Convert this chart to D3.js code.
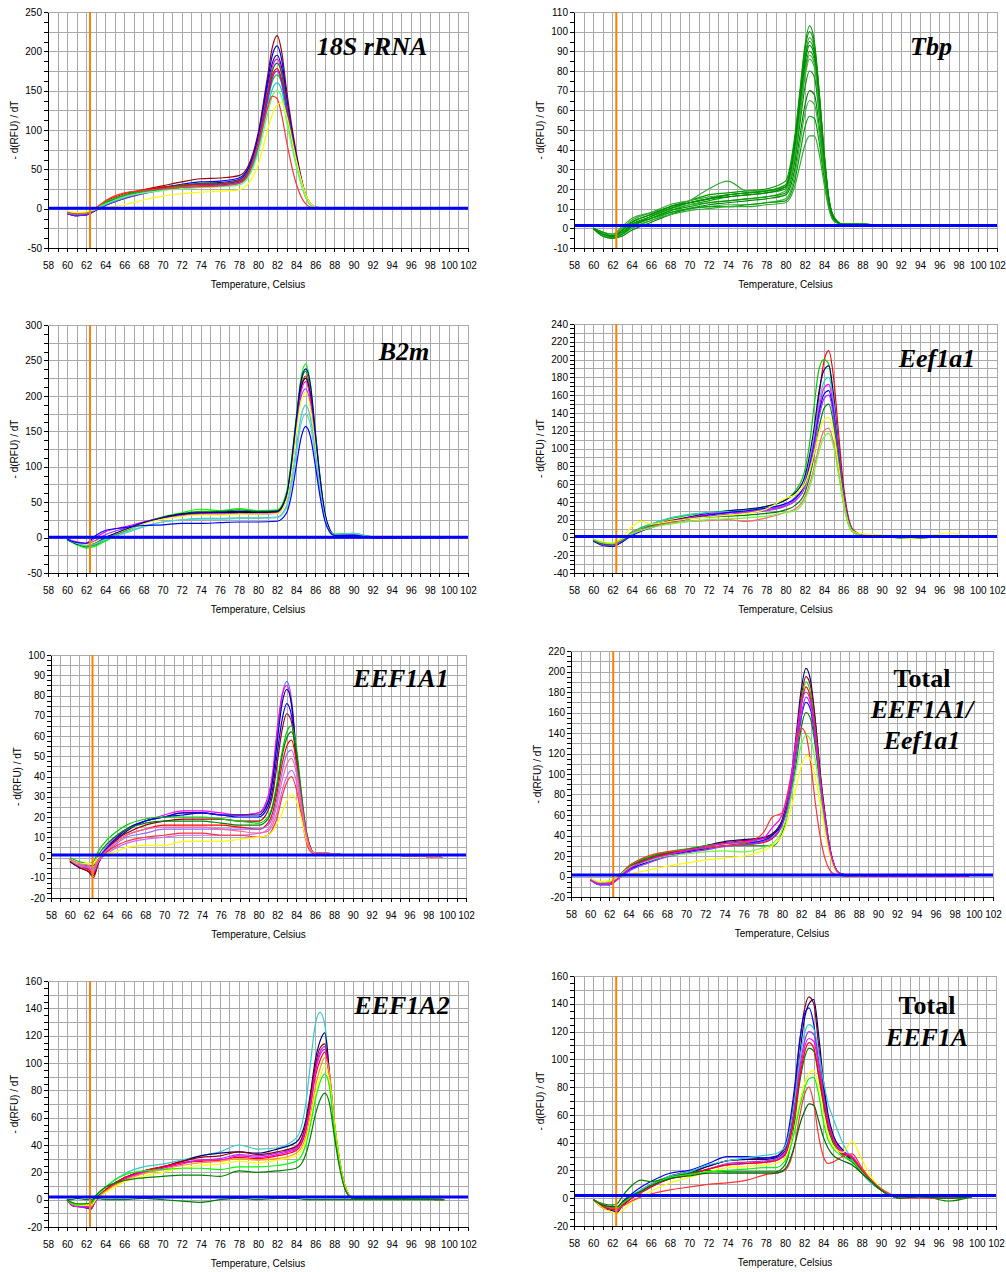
<!DOCTYPE html>
<html><head><meta charset="utf-8">
<script src="https://cdn.jsdelivr.net/npm/d3@7/dist/d3.min.js"></script>
<style>body{margin:0;background:#fff}svg{display:block}</style>
</head><body>
<svg id="chart" width="1006" height="1272"></svg>
<script>
// ---------------- DATA ----------------
const xTickLabels = [58,60,62,64,66,68,70,72,74,76,78,80,82,84,86,88,90,92,94,96,98,100,102];
const xAxisTitle = "Temperature, Celsius";
const yAxisTitle = "- d(RFU) / dT";
const orangeMarker = 62.4;

const panelTitles = [
  [["18S rRNA", true]],
  [["Tbp", true]],
  [["B2m", true]],
  [["Eef1a1", true]],
  [["EEF1A1", true]],
  [["Total", false], ["EEF1A1/", true], ["Eef1a1", true]],
  [["EEF1A2", true]],
  [["Total", false], ["EEF1A", true]]
];

const yTicks18S   = [-50,0,50,100,150,200,250];
const yTicksTbp   = [-10,0,10,20,30,40,50,60,70,80,90,100,110];
const yTicksB2m   = [-50,0,50,100,150,200,250,300];
const yTicksEef   = [-40,-20,0,20,40,60,80,100,120,140,160,180,200,220,240];
const yTicksEEF1  = [-20,-10,0,10,20,30,40,50,60,70,80,90,100];
const yTicksTotA1 = [-20,0,20,40,60,80,100,120,140,160,180,200,220];
const yTicksEEF2  = [-20,0,20,40,60,80,100,120,140,160];
const yTicksTotA  = [-20,0,20,40,60,80,100,120,140,160];

const thresholds = [0.5, 1.5, 0.5, 1, 1.2, 1.5, 2, 2];

// Panel 1: 18S rRNA
const temps18S = [60,61,62,63,64,66,68,70,72,74,76,78,79,80,81,81.5,82,82.5,83,84,85,86,88,92,99.5];
const colors18S = ["#990000","#0000ff","#000099","#ff00ff","#008000","#ff0000","#00cc00","#9900ff","#00cccc","#66ff66","#ff3333","#ffff00"];
const series18S = [
  [-5,-8,-8,-2,6,17,24,29,34,38,39,42,55,95,168,205,220,198,150,72,18,2,0,-1,0],
  [-6,-9,-8,-2,5,15,22,27,31,34,35,39,52,92,162,195,207,188,142,68,17,2,0,0,0],
  [-6,-9,-7,-2,4,13,20,25,29,32,33,37,50,88,155,185,195,178,137,66,17,1,0,0,0],
  [-5,-8,-7,-1,5,14,21,26,29,31,32,36,48,85,150,180,190,173,133,64,16,1,0,-1,0],
  [-4,-7,-6,-1,7,17,23,27,30,32,32,35,47,82,146,175,185,170,130,63,16,1,0,0,0],
  [-5,-7,-6,0,9,19,24,27,29,31,31,34,45,80,142,170,178,163,125,60,15,1,0,-1,0],
  [-4,-6,-5,1,8,17,22,25,28,29,30,33,44,78,136,162,170,158,122,58,15,1,0,0,0],
  [-6,-9,-8,-2,4,13,19,24,27,29,30,33,44,78,138,166,175,160,124,60,15,1,0,0,0],
  [-5,-7,-6,-1,5,14,20,24,27,28,29,32,42,74,128,152,160,150,117,57,15,1,0,0,0],
  [-4,-6,-5,0,6,15,20,23,25,27,28,30,40,70,120,143,150,141,110,54,14,1,0,0,0],
  [-4,-6,-5,1,10,20,23,25,27,28,29,32,44,80,128,143,140,118,85,32,6,0,0,0,0],
  [-3,-5,-4,-1,1,5,11,16,19,21,22,24,32,55,100,120,132,135,118,62,18,2,0,0,0]
];

// Panel 2: Tbp
const tempsTbp = [60,61,62,63,64,66,68,70,72,74,76,78,80,81,81.5,82,82.5,83,83.5,84,84.5,85,86,88,92,99.5];
const colorsTbp = ["#009900","#33aa33","#008800","#00a000","#40b040","#009900","#33aa33","#008800","#40b040","#00a000","#33aa33","#009900","#008800"];
const seriesTbp = [
  [0,-3,-4,-1,3,7,11,14,17,18,19,20,24,48,70,92,103,95,70,40,16,6,2,2,1,1],
  [0,-2,-3,0,4,8,12,14,16,17,18,19,22,45,66,87,97,92,68,38,15,6,2,2,1,1],
  [0,-3,-4,-2,2,6,10,13,15,17,18,19,21,42,62,83,93,88,66,37,15,6,2,2,1,1],
  [0,-4,-5,-3,1,5,9,12,14,16,17,18,20,40,60,80,90,86,64,36,14,5,2,2,1,1],
  [0,-2,-3,0,3,7,10,12,13,14,15,16,19,38,57,76,86,82,62,35,14,5,2,2,1,1],
  [0,-3,-4,-2,2,5,9,11,13,14,15,16,18,35,53,71,80,77,58,33,13,5,2,2,1,1],
  [0,-2,-3,1,5,8,11,14,20,24,19,19,21,40,59,78,88,84,62,35,14,5,2,2,1,1],
  [0,-3,-5,-4,-1,3,7,10,12,13,14,15,17,31,47,62,70,68,52,30,12,5,2,2,1,1],
  [0,-3,-4,-3,0,4,8,10,11,12,12,13,15,28,43,58,65,63,49,29,12,4,2,2,1,1],
  [0,-2,-4,-2,1,5,8,10,11,11,12,13,14,25,38,51,57,56,44,26,11,4,2,2,1,1],
  [0,-3,-5,-3,0,4,7,9,10,11,11,12,13,22,32,42,47,47,38,23,10,4,2,2,1,1],
  [0,-4,-5,-3,1,6,10,13,15,17,18,19,22,46,68,90,100,93,69,39,15,6,2,2,1,1],
  [0,-3,-4,-1,3,7,11,13,15,16,17,18,21,43,64,85,95,90,67,37,15,5,2,2,1,1]
];

// Panel 3: B2m
const tempsB2m = [60,61,62,63,64,66,68,70,72,74,76,78,80,82,83,83.5,84,84.5,85,85.5,86,86.5,87,87.5,88,90,92,99.5];
const colorsB2m = ["#00ff00","#009900","#ff0000","#000000","#ff00ff","#9933ff","#ffff00","#000099","#33cccc","#66cccc","#0000ff"];
const seriesB2m = [
  [-3,-10,-15,-12,-5,8,20,29,35,40,38,41,38,39,65,110,170,225,245,215,150,85,35,12,5,6,1,0],
  [-2,-9,-13,-10,-3,9,21,29,34,37,37,39,37,38,62,105,165,218,235,205,145,82,33,11,4,5,1,0],
  [-2,-8,-10,-7,0,10,21,28,32,34,35,36,35,36,58,100,160,212,228,200,140,78,32,10,4,3,0,0],
  [-2,-9,-11,-8,-1,10,21,28,33,35,35,36,35,36,58,99,158,210,225,198,138,77,32,10,4,3,0,0],
  [-2,-6,-8,0,8,15,22,28,31,33,33,34,34,35,56,96,155,205,220,194,135,75,31,10,4,3,0,0],
  [-2,-7,-9,-4,4,13,21,27,31,33,33,34,33,34,55,93,150,198,210,186,130,72,30,10,4,3,0,0],
  [-2,-8,-10,-6,0,10,20,26,30,32,32,33,33,34,54,91,146,192,205,182,128,70,29,10,4,3,0,0],
  [-3,-8,-12,-8,0,11,21,28,33,35,36,37,36,37,60,104,165,220,238,215,150,85,35,12,4,3,0,0],
  [-2,-8,-12,-9,-3,6,15,22,25,27,27,28,28,29,45,78,125,170,187,168,120,68,28,9,4,6,1,0],
  [-2,-8,-11,-8,-2,7,16,22,25,26,26,27,27,28,42,72,116,160,175,158,113,64,27,9,4,6,1,0],
  [-2,-7,-8,3,10,14,17,18,20,20,21,22,22,23,35,60,100,140,157,142,102,58,24,8,3,3,0,0]
];

// Panel 4: Eef1a1
const tempsEef = [60,61,62,63,64,65,66,68,70,72,74,76,78,80,81,82,82.5,83,83.5,84,84.5,85,85.5,86,86.5,87,88,90,93,97,99.5];
const colorsEef = ["#ff0000","#00cc00","#000080","#33cccc","#ff00ff","#0000ff","#9933ff","#008000","#ffff00","#ff6666","#66ff33"];
const seriesEef = [
  [-3,-8,-9,-4,4,9,13,19,23,26,28,29,32,37,45,62,85,115,160,198,210,180,120,62,25,9,3,1,-1,1,0],
  [-3,-7,-8,-3,6,11,15,21,25,28,30,31,35,42,52,75,105,150,190,200,195,150,90,45,18,7,2,1,-1,1,0],
  [-4,-9,-10,-5,3,8,12,18,23,27,30,32,35,42,50,68,92,125,165,188,193,160,105,55,22,8,2,1,0,1,0],
  [-3,-7,-8,-3,5,10,15,22,26,28,29,30,32,37,45,62,85,115,152,175,180,152,100,52,21,8,2,1,0,1,0],
  [-3,-8,-9,-4,3,8,12,18,22,26,28,29,31,36,43,60,82,110,145,168,172,145,97,50,20,7,2,1,0,1,0],
  [-4,-8,-10,-5,2,7,11,17,21,25,28,30,33,38,44,60,80,106,140,161,165,140,94,49,20,7,2,1,0,1,0],
  [-3,-8,-9,-4,3,8,12,17,21,24,26,28,30,35,41,56,76,102,135,156,160,136,91,48,19,7,2,1,0,1,0],
  [-3,-7,-8,-3,4,9,13,18,21,23,24,25,27,31,36,50,68,93,124,145,150,128,86,45,18,7,2,1,0,1,0],
  [-2,-5,-6,0,12,18,15,18,21,23,25,27,32,44,48,60,75,95,118,132,135,118,82,44,18,7,4,3,-1,5,-1],
  [-2,-6,-7,-2,5,9,12,16,18,19,20,18,22,28,32,45,60,80,103,120,123,106,74,40,16,6,2,1,0,1,0],
  [-2,-6,-7,-2,4,8,11,15,18,20,21,22,24,28,30,42,56,75,97,113,117,102,72,39,16,6,2,1,0,1,0]
];

// Panel 5: EEF1A1
const tempsEEF1 = [60,61,62,62.5,63,64,65,66,68,70,72,74,76,78,80,81,81.5,82,82.5,83,83.5,84,84.5,85,85.5,86,87,90,95,99.5];
const colorsEEF1 = ["#6666ff","#ff00ff","#000080","#0000ff","#990000","#00cc00","#008000","#ff0000","#9966ff","#cc66ff","#ff3333","#ffff00","#ff6699"];
const seriesEEF1 = [
  [-1,-4,-5,-7,-1,6,11,14,18,20,22,22,21,21,22,28,40,62,80,87,78,52,28,12,4,2,2,1,1,0],
  [-1,-4,-6,-8,-2,5,10,14,18,21,23,23,22,21,22,30,42,64,80,85,75,50,27,11,4,2,2,1,1,0],
  [-2,-5,-7,-9,-3,4,9,13,18,20,22,22,21,21,21,27,38,58,76,83,76,52,28,12,4,2,2,1,1,0],
  [-1,-4,-5,-6,-1,5,10,14,18,20,21,22,21,20,20,25,34,52,68,76,70,50,28,12,4,2,2,1,1,0],
  [-2,-5,-7,-10,-3,4,9,12,16,18,19,19,19,18,18,23,31,47,63,71,67,48,27,12,4,2,2,1,1,0],
  [0,-2,-3,-2,3,9,13,16,19,20,20,20,19,18,17,20,26,38,52,62,65,55,34,15,5,2,2,1,1,0],
  [-1,-3,-4,-4,1,7,11,14,17,18,18,18,17,16,16,19,25,36,50,59,62,53,33,15,5,2,2,1,1,0],
  [-1,-4,-6,-8,-2,4,8,11,14,16,16,16,16,15,14,17,22,33,46,55,58,48,30,14,5,2,2,1,1,0],
  [-1,-4,-5,-7,-2,3,7,10,12,14,14,14,14,14,14,16,20,30,42,51,53,45,29,13,4,2,2,1,1,0],
  [-1,-4,-5,-6,-2,2,5,7,9,10,11,11,11,11,12,13,16,23,33,40,43,38,25,12,4,2,2,1,1,0],
  [-1,-3,-4,-5,-1,3,6,8,10,11,12,12,11,11,10,11,14,20,30,37,40,34,22,9,3,2,2,1,1,0],
  [-1,-3,-3,-3,0,2,3,5,6,6,8,8,8,9,10,11,13,17,22,28,31,28,20,10,4,2,2,1,1,0],
  [-1,-3,-4,-5,-1,4,8,11,14,15,15,15,14,13,12,14,18,27,38,46,49,42,27,12,4,2,2,1,1,0]
];

// Panel 6: Total EEF1A1/Eef1a1
const tempsTotA1 = [60,61,62,63,64,66,68,70,72,74,76,78,79,80,80.5,81,81.5,82,82.5,83,83.5,84,84.5,85,85.5,86,87,90,95,99.5];
const colorsTotA1 = ["#000080","#990000","#00cc00","#ff0000","#0000ff","#008000","#9933ff","#ff3333","#66ff33","#ffff00","#ff00ff"];
const seriesTotA1 = [
  [-3,-8,-8,-1,7,16,22,26,30,34,36,38,42,55,72,100,140,182,203,190,150,100,60,28,10,3,1,0,0,0],
  [-3,-7,-7,0,8,17,22,26,30,33,35,37,41,54,70,97,135,175,195,185,148,98,58,27,10,3,1,0,0,0],
  [-2,-6,-6,1,10,19,24,27,30,32,33,35,38,52,68,95,132,170,190,178,140,94,56,26,9,3,1,0,0,0],
  [-3,-7,-7,0,8,17,22,25,28,30,31,33,37,50,66,93,128,166,185,172,137,92,55,26,9,3,1,0,0,0],
  [-3,-8,-8,-1,6,14,20,24,27,30,32,35,40,52,66,90,122,155,170,162,130,88,53,25,9,3,1,0,0,0],
  [-2,-6,-6,1,9,18,23,26,28,30,30,30,30,42,58,82,112,145,160,153,125,86,52,25,9,3,1,0,0,0],
  [-3,-8,-8,-2,5,13,19,23,26,29,31,34,38,50,64,90,122,157,175,166,133,90,54,25,9,3,1,0,0,0],
  [-2,-6,-6,1,10,20,24,26,28,30,32,42,58,62,78,102,130,145,138,110,70,38,17,6,2,1,0,0,0,0],
  [-2,-6,-5,1,8,15,20,22,24,25,24,28,32,45,58,80,105,128,138,133,112,80,48,23,9,3,1,0,0,0],
  [-2,-5,-4,-1,2,6,10,13,16,18,20,25,30,40,52,68,88,107,118,114,95,70,42,20,7,2,1,0,0,0],
  [-3,-7,-7,-1,7,16,21,25,29,32,34,37,48,60,75,100,135,168,180,170,135,90,54,25,9,3,1,0,0,0]
];

// Panel 7: EEF1A2
const tempsEEF2 = [60,60.5,61,62,62.5,63,64,66,68,70,72,74,76,78,80,82,84,85,85.5,86,86.5,87,87.5,88,88.5,89,89.5,90,92,99.5];
const colorsEEF2 = ["#33cccc","#000080","#9933ff","#990000","#ff0000","#ff00ff","#ff9900","#ffff00","#00ff00","#008000","#008000"];
const seriesEEF2 = [
  [0,-3,-4,-4,-4,2,9,19,24,26,29,32,35,40,37,38,45,70,100,128,137,128,90,52,28,12,4,1,1,0],
  [0,-4,-5,-6,-7,0,7,16,21,24,28,32,34,35,34,37,42,58,78,102,116,122,92,55,30,12,4,1,1,0],
  [0,-4,-5,-6,-6,-1,6,15,20,23,27,29,30,33,32,34,38,53,72,95,108,112,88,52,28,11,3,1,1,0],
  [0,-4,-5,-5,-6,0,7,16,21,24,28,31,32,35,33,35,39,55,75,98,111,114,90,53,29,11,3,1,1,0],
  [0,-3,-4,-5,-5,0,7,16,21,24,27,28,29,31,30,32,36,50,68,90,102,108,90,56,31,13,4,1,1,0],
  [0,-4,-5,-5,-6,-1,6,15,20,23,26,29,29,32,31,33,37,52,70,93,106,110,87,52,28,11,3,1,1,0],
  [0,-3,-4,-4,-5,0,6,14,19,22,25,27,28,30,29,30,34,46,62,82,96,104,92,58,32,13,4,1,1,0],
  [0,-3,-4,-4,-4,0,5,13,17,20,23,25,26,28,27,29,32,43,58,77,90,98,86,55,30,12,4,1,1,0],
  [0,-3,-4,-3,-3,2,9,18,21,22,23,23,22,24,24,25,28,40,55,73,86,92,82,52,28,11,3,1,1,0],
  [0,-2,-3,-3,-2,3,9,14,16,17,18,18,17,21,20,21,23,33,46,62,73,78,70,46,25,10,3,1,1,0],
  [0,0,1,0,0,1,0,0,1,0,-1,-2,0,1,0,1,1,0,0,0,0,0,0,0,0,0,0,0,0,0]
];

// Panel 8: Total EEF1A
const tempsTotA = [60,61,62,62.5,63,64,65,66,68,70,72,74,76,78,79,80,81,81.5,82,82.5,83,83.5,84,84.5,85,86,87,88,89,90,91,92,94,97,99.5];
const colorsTotA = ["#990000","#000080","#0000ff","#33cccc","#9933ff","#ff00ff","#008000","#ff0000","#ffff00","#00ff00","#ff3333","#006600"];
const seriesTotA = [
  [-1,-6,-8,-9,-5,1,6,10,16,19,23,27,28,29,30,36,75,110,135,145,140,110,80,58,45,34,28,19,12,6,2,0,1,0,1],
  [-1,-7,-9,-10,-6,0,5,9,15,18,23,27,28,28,29,34,68,100,128,140,143,118,85,60,46,35,28,19,12,6,2,0,1,0,1],
  [-1,-5,-7,-7,-3,3,8,12,18,20,25,30,30,29,30,38,80,112,132,137,125,98,75,55,43,33,27,18,11,6,2,0,1,0,1],
  [-1,-5,-7,-8,-4,2,6,10,16,19,24,27,29,31,32,37,70,98,118,125,122,105,85,68,58,40,28,18,11,6,2,0,1,0,1],
  [-1,-6,-8,-9,-5,1,5,9,14,17,21,25,26,27,28,33,64,92,112,120,118,98,75,56,44,34,30,20,12,6,2,0,1,0,1],
  [-1,-6,-8,-9,-5,0,4,8,14,17,21,24,25,26,27,32,62,88,108,115,113,95,72,54,43,33,30,21,13,6,2,0,1,0,1],
  [-1,-4,-5,-4,1,9,13,12,15,18,20,19,19,19,19,24,55,82,100,108,106,88,68,50,40,31,26,19,13,7,2,0,2,-2,1],
  [-1,-6,-8,-8,-5,0,4,8,14,17,21,24,25,26,27,31,60,85,104,112,108,90,70,52,42,32,29,20,13,6,2,0,1,0,1],
  [-1,-7,-10,-11,-9,-3,1,5,11,15,19,22,23,24,25,29,50,68,82,90,92,80,60,45,38,33,41,28,15,7,2,0,1,0,1],
  [-1,-5,-7,-7,-4,1,5,9,15,17,19,20,21,22,22,27,48,65,78,86,87,75,55,42,36,30,27,19,12,6,2,0,1,0,1],
  [-1,-5,-7,-8,-6,-2,1,3,6,8,10,11,13,17,18,20,38,58,74,80,68,45,30,25,26,30,32,22,13,7,3,0,0,0,1],
  [-1,-5,-6,-6,-3,2,5,9,14,16,18,18,18,18,18,21,38,52,62,68,67,56,44,36,31,27,24,18,12,6,2,0,1,0,1]
];

// ---------------- LAYOUT ----------------
const layout = [
  {box:[48,12,468,248],  grid:25, title:[372,55,31]},
  {box:[574,12,997,248], grid:10, title:[931,55,31]},
  {box:[48,325,468,573], grid:25, title:[404,360,31]},
  {box:[574,324,997,573],grid:10, title:[937,367,31]},
  {box:[51,655,466,898], grid:5,  title:[401,687,31]},
  {box:[571,651,993,897],grid:10, title:[922,687,31]},
  {box:[48,981,468,1227],grid:10, title:[402,1014,31]},
  {box:[574,976,996,1226],grid:10,title:[927,1014,32]}
];

const panelData = [
  {temps:temps18S,  series:series18S,  colors:colors18S,  yTicks:yTicks18S},
  {temps:tempsTbp,  series:seriesTbp,  colors:colorsTbp,  yTicks:yTicksTbp},
  {temps:tempsB2m,  series:seriesB2m,  colors:colorsB2m,  yTicks:yTicksB2m},
  {temps:tempsEef,  series:seriesEef,  colors:colorsEef,  yTicks:yTicksEef},
  {temps:tempsEEF1, series:seriesEEF1, colors:colorsEEF1, yTicks:yTicksEEF1},
  {temps:tempsTotA1,series:seriesTotA1,colors:colorsTotA1,yTicks:yTicksTotA1},
  {temps:tempsEEF2, series:seriesEEF2, colors:colorsEEF2, yTicks:yTicksEEF2},
  {temps:tempsTotA, series:seriesTotA, colors:colorsTotA, yTicks:yTicksTotA}
];

// ---------------- DRAW ----------------
const svg = d3.select("#chart");
svg.append("rect").attr("width",1006).attr("height",1272).attr("fill","#fff");
const FONT = "'Liberation Sans', Arial, sans-serif";

panelData.forEach((pd, pi) => {
  const L = layout[pi];
  const [x0,y0,x1,y1] = L.box;
  const yMin = pd.yTicks[0], yMax = pd.yTicks[pd.yTicks.length-1];
  const x = d3.scaleLinear().domain([58,102]).range([x0,x1]);
  const y = d3.scaleLinear().domain([yMin,yMax]).range([y1,y0]);
  const g = svg.append("g");

  // grid
  const gg = g.append("g").attr("shape-rendering","crispEdges").attr("stroke","#aaaaaa").attr("stroke-width",1);
  d3.range(58,102.001,1).forEach(t => {
    gg.append("line").attr("x1",Math.round(x(t))+0.5).attr("x2",Math.round(x(t))+0.5).attr("y1",y0).attr("y2",y1);
  });
  d3.range(yMin,yMax+0.001,L.grid).forEach(v => {
    gg.append("line").attr("x1",x0).attr("x2",x1).attr("y1",Math.round(y(v))+0.5).attr("y2",Math.round(y(v))+0.5);
  });

  // curves
  const clipId = "clip"+pi;
  g.append("clipPath").attr("id",clipId).append("rect").attr("x",x0).attr("y",y0).attr("width",x1-x0).attr("height",y1-y0);
  const line = d3.line().x(d=>x(d[0])).y(d=>y(d[1])).curve(d3.curveMonotoneX);
  const cg = g.append("g").attr("clip-path",`url(#${clipId})`);
  pd.series.forEach((s, si) => {
    cg.append("path").datum(pd.temps.map((t,i)=>[t,s[i]]))
      .attr("d",line).attr("fill","none").attr("stroke",pd.colors[si % pd.colors.length]).attr("stroke-width",1.2);
  });

  // orange marker & threshold
  g.append("line").attr("x1",x(orangeMarker)).attr("x2",x(orangeMarker)).attr("y1",y0).attr("y2",y1)
    .attr("stroke","#ff8000").attr("stroke-width",2);
  g.append("line").attr("x1",x0).attr("x2",x1).attr("y1",y(thresholds[pi])).attr("y2",y(thresholds[pi]))
    .attr("stroke","#0000ff").attr("stroke-width",3);

  // axes
  const xa = d3.axisBottom(x).tickValues(d3.range(58,102.001,1)).tickSize(4).tickSizeOuter(0).tickPadding(10)
    .tickFormat(d => xTickLabels.includes(d) ? d : "");
  const xg = g.append("g").attr("transform",`translate(0,${y1})`).call(xa);
  const ya = d3.axisLeft(y).tickValues(d3.range(yMin,yMax+0.001,L.grid/2)).tickSize(4).tickSizeOuter(0).tickPadding(2)
    .tickFormat(d => pd.yTicks.includes(d) ? d : "");
  const yg = g.append("g").attr("transform",`translate(${x0},0)`).call(ya);
  [xg,yg].forEach(a => {
    a.selectAll("text").attr("font-family",FONT).attr("font-size",10).attr("fill","#000");
    a.selectAll("line").attr("stroke","#000");
    a.select(".domain").attr("stroke","#000");
    a.attr("shape-rendering","crispEdges");
  });

  // axis titles
  g.append("text").attr("x",(x0+x1)/2).attr("y",y1+40).attr("text-anchor","middle")
    .attr("font-family",FONT).attr("font-size",10).text(xAxisTitle);
  g.append("text").attr("transform",`translate(${x0-30},${(y0+y1)/2}) rotate(-90)`).attr("text-anchor","middle")
    .attr("font-family",FONT).attr("font-size",10).text(yAxisTitle);

  // panel title
  const [tx,ty,tgap] = L.title;
  panelTitles[pi].forEach((ln, li) => {
    g.append("text").attr("x",tx).attr("y",ty+li*tgap).attr("text-anchor","middle")
      .attr("font-family","'Liberation Serif','Times New Roman',serif").attr("font-size",26)
      .attr("font-weight","bold").attr("font-style", ln[1] ? "italic" : "normal").text(ln[0]);
  });
});
</script>
</body></html>
